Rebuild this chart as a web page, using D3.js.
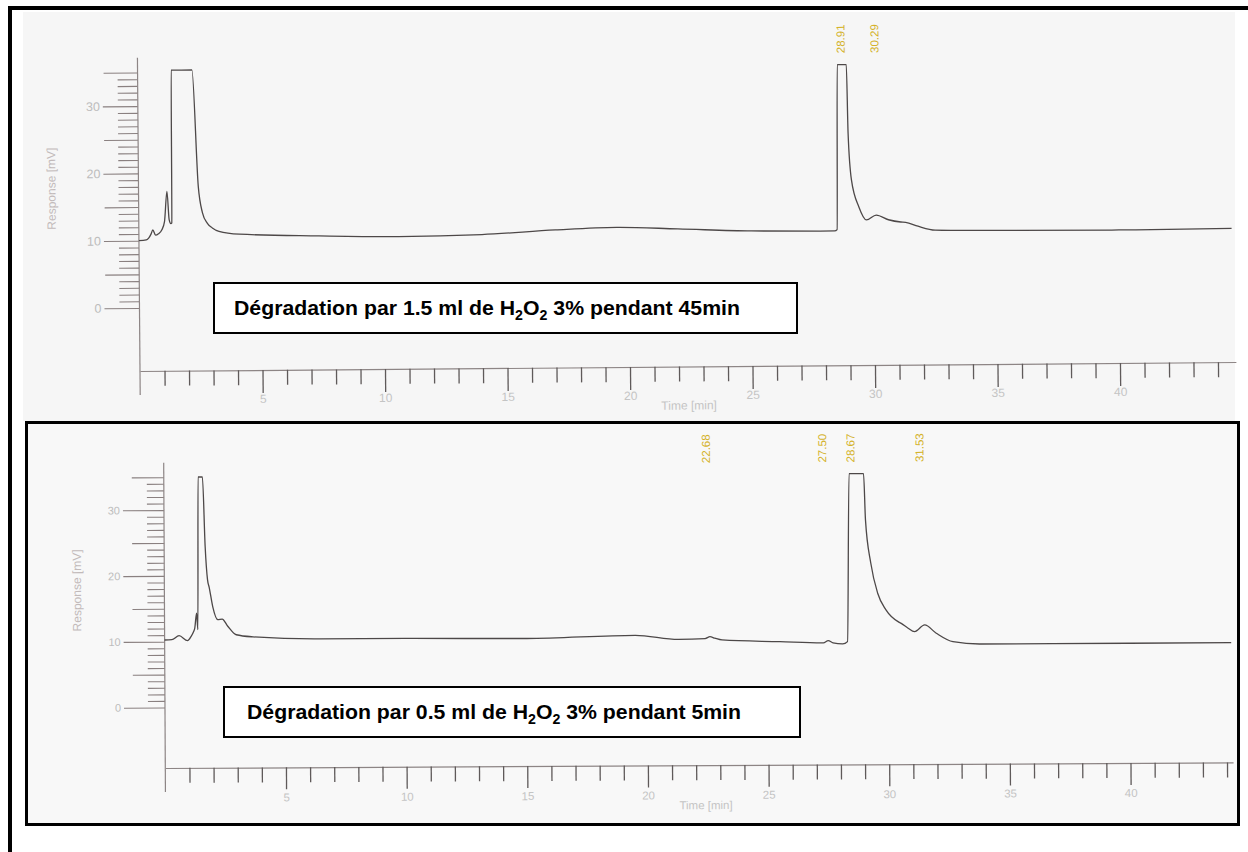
<!DOCTYPE html>
<html>
<head>
<meta charset="utf-8">
<script src="https://cdn.jsdelivr.net/npm/d3@7"></script>
<style>
  body { margin: 0; background: #fff; }
  svg { display: block; }
</style>
</head>
<body>
<div id="chart"></div>
<script>
const width = 1248, height = 852;

// run 1 : 1.5 ml H2O2 3%, 45 min  (time in min, response in mV)
const topTime = [0, 0.3, 0.5, 0.57, 0.68, 0.8, 0.94, 1.05, 1.16, 1.24, 1.31, 1.35, 1.37, 2.22, 2.44, 2.6, 2.8, 3.0, 3.27, 4.1, 7.35, 10.6, 14, 17, 19.5, 22, 25, 28.4, 28.5, 28.56, 28.93, 28.98, 29.1, 29.4, 29.7, 30.1, 30.6, 31.1, 31.3, 31.8, 32.5, 34.3, 40, 44.6];
const topResp = [10.0, 10.1, 11.0, 11.6, 10.8, 11.0, 11.6, 12.8, 17.3, 13.1, 12.5, 12.6, 35.3, 35.3, 18.0, 14.1, 12.5, 11.8, 11.3, 10.85, 10.5, 10.3, 10.5, 11.1, 11.4, 11.1, 10.7, 10.6, 10.8, 35.3, 35.3, 25.1, 18.2, 14.1, 12.2, 12.9, 12.2, 11.85, 11.8, 11.2, 10.6, 10.5, 10.4, 10.5];
const topPeaks = ["28.91", "30.29"];

// run 2 : 0.5 ml H2O2 3%, 5 min
const botTime = [0, 0.3, 0.6, 0.95, 1.1, 1.2, 1.25, 1.33, 1.38, 1.42, 1.6, 1.7, 1.79, 1.86, 2.0, 2.21, 2.39, 2.62, 2.97, 3.66, 6.4, 10, 15, 19.5, 21.3, 22.4, 22.6, 22.8, 23.1, 25.5, 27.3, 27.5, 27.7, 28.1, 28.3, 28.4, 29.0, 29.07, 29.28, 29.56, 29.9, 30.4, 30.53, 30.8, 31.08, 31.5, 31.98, 32.67, 33.8, 40, 44.2];
const botResp = [10.26, 10.3, 10.9, 10.15, 10.8, 11.5, 12.0, 14.3, 11.8, 35.0, 35.0, 24.4, 19.4, 18.2, 15.3, 13.3, 13.4, 12.3, 11.0, 10.67, 10.3, 10.3, 10.2, 10.6, 9.95, 10.05, 10.33, 10.1, 9.82, 9.51, 9.3, 9.63, 9.3, 9.12, 9.47, 35.0, 35.0, 27.96, 21.4, 16.8, 14.27, 12.46, 12.2, 11.5, 10.93, 11.94, 10.67, 9.37, 9.0, 9.0, 9.0];
const botPeaks = ["22.68", "27.50", "28.67", "31.53"];

const yTickLabels = [0, 10, 20, 30];
const xTickLabels = [5, 10, 15, 20, 25, 30, 35, 40];

const topCaption = ["Dégradation par 1.5 ml de H", "2", "O", "2", " 3% pendant 45min"];
const botCaption = ["Dégradation par 0.5 ml de H", "2", "O", "2", " 3% pendant 5min"];

const font = "'Liberation Sans', Arial, sans-serif";

const svg = d3.select("#chart")
    .append("svg")
    .attr("width", width)
    .attr("height", height);

// paper backgrounds
svg.append("rect")
    .attr("x", 23).attr("y", 12)
    .attr("width", 1212).attr("height", 409)
    .attr("fill", "#f6f6f6");

svg.append("rect")
    .attr("x", 26.5).attr("y", 422.5)
    .attr("width", 1212).attr("height", 402)
    .attr("fill", "#f8f8f8")
    .attr("stroke", "#000")
    .attr("stroke-width", 3);

// outer frame (left + top)
svg.append("path")
    .attr("d", "M10,852V8H1248")
    .attr("fill", "none")
    .attr("stroke", "#000")
    .attr("stroke-width", 4);

const panels = [
    {
        time: topTime, resp: topResp, peaks: topPeaks, caption: topCaption,
        x0: 140, pxPerMin: 24.5, tMax: 44.73,
        y0: 308, pxPerMv: 6.73, axisY: 371, tilt: -0.47,
        majorY: 35, medY: 34, minorY: 20, majorX: 23, xLabelY: 33,
        yFont: 12.5, xFont: 12, peakFont: 11.5,
        peakY: 59, titleX: 57, titleY: 188, timeY: 43,
        box: { x: 214, y: 283, w: 583, h: 50 }, textX: 234, textY: 315, textLen: 506
    },
    {
        time: botTime, resp: botResp, peaks: botPeaks, caption: botCaption,
        x0: 165.3, pxPerMin: 24.13, tMax: 44.25,
        y0: 707.5, pxPerMv: 6.58, axisY: 768, tilt: -0.3,
        majorY: 41, medY: 32, minorY: 17, majorX: 22, xLabelY: 34,
        yFont: 11, xFont: 11.5, peakFont: 11.5,
        peakY: 466, titleX: 82, titleY: 590, timeY: 44,
        box: { x: 224, y: 687, w: 576, h: 50 }, textX: 247, textY: 719, textLen: 494
    }
];

panels.forEach(drawPanel);

function drawPanel(p) {
    const x = d3.scaleLinear()
        .domain([0, p.tMax])
        .range([p.x0, p.x0 + p.tMax * p.pxPerMin]);
    const y = d3.scaleLinear()
        .domain([0, 35])
        .range([p.y0, p.y0 - 35 * p.pxPerMv]);

    // the scanned sheet is a little tilted
    const g = svg.append("g")
        .attr("transform", `rotate(${p.tilt},${p.x0},${p.axisY})`);

    // x axis
    const xAxis = d3.axisBottom(x)
        .tickValues(d3.range(1, Math.floor(p.tMax) + 1))
        .tickSize(15)
        .tickSizeOuter(0)
        .tickFormat(d => xTickLabels.includes(d) ? d : "");

    const gx = g.append("g")
        .attr("transform", `translate(0,${p.axisY})`)
        .call(xAxis);
    gx.select(".domain").attr("stroke", "#8d8585").attr("stroke-width", 1.2);
    gx.selectAll(".tick line")
        .attr("stroke", "#5f5a5a")
        .attr("stroke-width", 1.3)
        .attr("y2", d => d % 5 === 0 ? p.majorX : 15);
    gx.selectAll(".tick text")
        .attr("y", p.xLabelY).attr("dy", 0)
        .attr("fill", "#c4c4c4")
        .attr("font-size", p.xFont)
        .attr("font-family", font);

    g.append("text")
        .attr("x", x(22.4))
        .attr("y", p.axisY + p.timeY)
        .attr("text-anchor", "middle")
        .attr("fill", "#c4c4c4")
        .attr("font-size", p.xFont)
        .attr("font-family", font)
        .text("Time [min]");

    // y axis
    const yAxis = d3.axisLeft(y)
        .tickValues(d3.range(0, 36))
        .tickSize(p.minorY)
        .tickFormat(d => yTickLabels.includes(d) ? d : "");

    const gy = g.append("g")
        .attr("transform", `translate(${p.x0},0)`)
        .call(yAxis);
    gy.select(".domain").remove();
    gy.selectAll(".tick line")
        .attr("stroke", "#8a8080")
        .attr("stroke-width", 1.1)
        .attr("x2", d => d % 10 === 0 ? -p.majorY : (d % 5 === 0 ? -p.medY : -p.minorY));
    gy.selectAll(".tick text")
        .attr("x", -p.majorY - 3)
        .attr("fill", "#bdbdbd")
        .attr("font-size", p.yFont)
        .attr("font-family", font);

    g.append("line")
        .attr("x1", p.x0).attr("x2", p.x0)
        .attr("y1", y(37.2)).attr("y2", p.axisY + 24)
        .attr("stroke", "#8d8585")
        .attr("stroke-width", 1.2);

    g.append("text")
        .attr("transform", `translate(${p.titleX},${p.titleY}) rotate(-90)`)
        .attr("text-anchor", "middle")
        .attr("fill", "#c2baba")
        .attr("font-size", 12)
        .attr("font-family", font)
        .text("Response [mV]");

    // trace
    const line = d3.line()
        .x(i => x(p.time[i]))
        .y(i => y(p.resp[i]))
        .curve(d3.curveMonotoneX);

    g.append("path")
        .datum(d3.range(p.time.length))
        .attr("d", line)
        .attr("fill", "none")
        .attr("stroke", "#4d4848")
        .attr("stroke-width", 1.3);

    // retention time labels
    g.selectAll(".peak")
        .data(p.peaks)
        .join("text")
        .attr("class", "peak")
        .attr("transform", d => `translate(${x(+d) - 1},${p.peakY}) rotate(-90)`)
        .attr("fill", "#d4b22a")
        .attr("font-size", p.peakFont)
        .attr("font-family", font)
        .text(d => d);

    // caption box
    svg.append("rect")
        .attr("x", p.box.x).attr("y", p.box.y)
        .attr("width", p.box.w).attr("height", p.box.h)
        .attr("fill", "#fff")
        .attr("stroke", "#000")
        .attr("stroke-width", 2);

    const t = svg.append("text")
        .attr("x", p.textX).attr("y", p.textY)
        .attr("font-family", "'Liberation Sans Narrow', 'Arial Narrow', 'Liberation Sans', Arial, sans-serif")
        .attr("font-weight", "bold")
        .attr("font-size", 21)
        .attr("fill", "#000")
        .attr("textLength", p.textLen)
        .attr("lengthAdjust", "spacingAndGlyphs");
    p.caption.forEach((s, i) => {
        const sub = i === 1 || i === 3;
        t.append("tspan")
            .attr("dy", sub ? 5 : (i > 1 ? -5 : 0))
            .attr("font-size", sub ? 14 : 21)
            .text(s);
    });
}
</script>
</body>
</html>
